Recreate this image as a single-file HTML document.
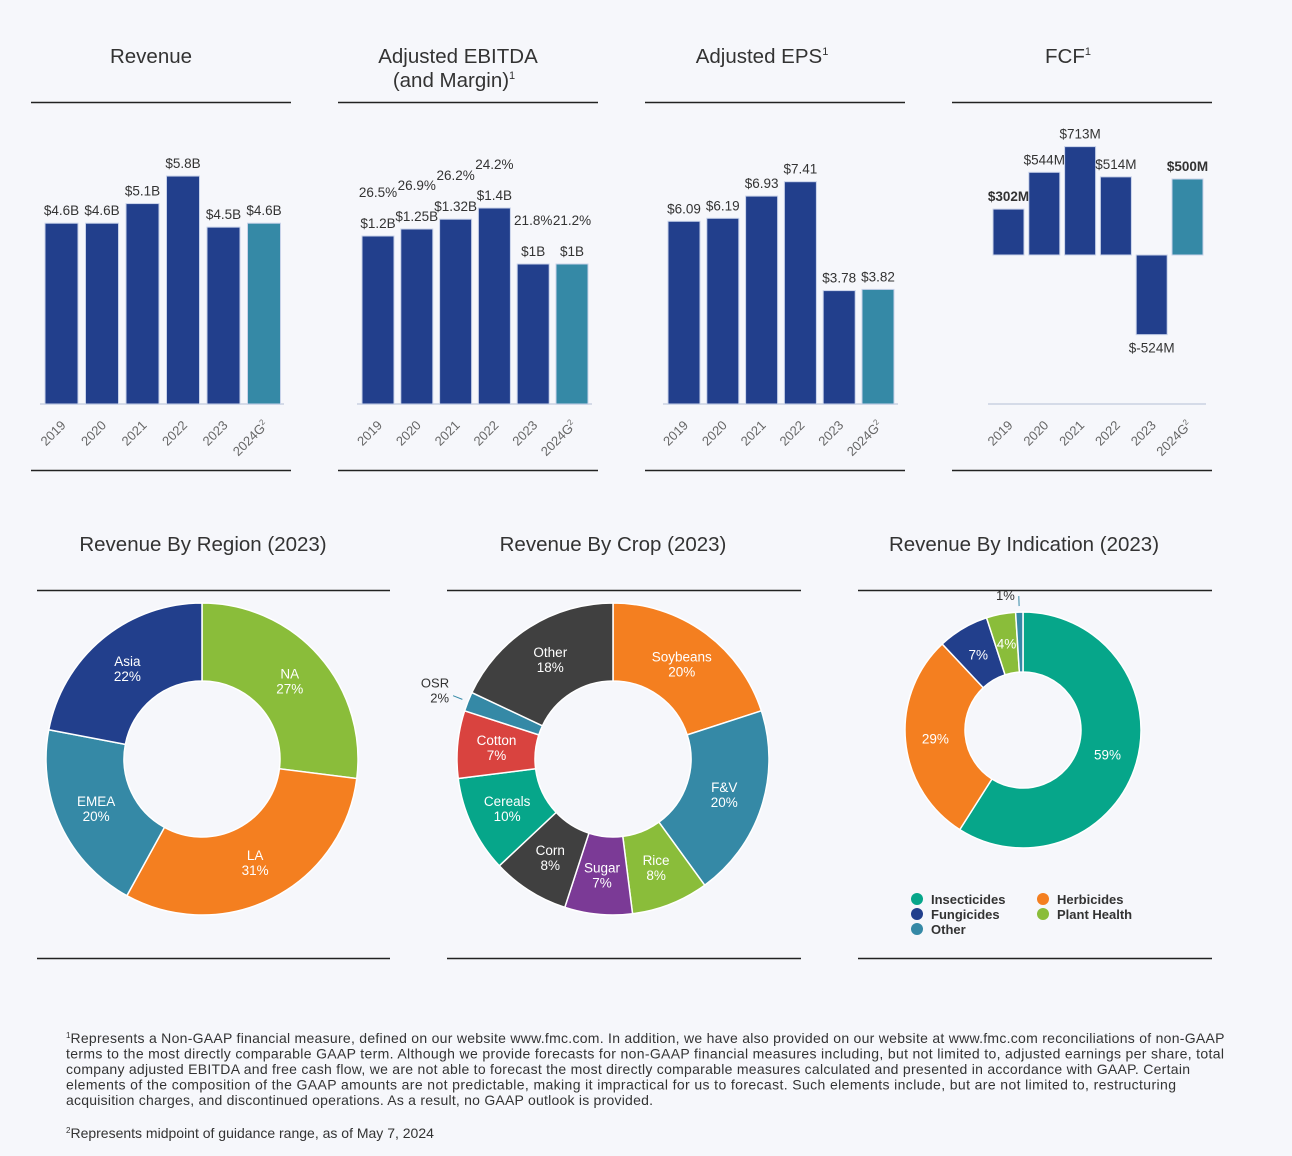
<!DOCTYPE html>
<html><head><meta charset="utf-8">
<style>
html,body{margin:0;padding:0;background:#f6f7fb;}
body{width:1292px;height:1151px;overflow:hidden;font-family:"Liberation Sans",sans-serif;}
svg text{font-family:"Liberation Sans",sans-serif;}
</style></head>
<body>
<svg id="c" width="1292" height="1151" viewBox="0 0 1292 1151" xmlns="http://www.w3.org/2000/svg">
<rect width="1292" height="1151" fill="#f6f7fb"/>
<g font-size="20.5" fill="#333" text-anchor="middle">
<text x="151" y="63">Revenue</text>
<text x="458" y="63">Adjusted EBITDA</text>
<text x="454" y="87">(and Margin)<tspan font-size="11" dy="-8">1</tspan></text>
<text x="762" y="63">Adjusted EPS<tspan font-size="11" dy="-8">1</tspan></text>
<text x="1068" y="63">FCF<tspan font-size="11" dy="-8">1</tspan></text>
<text x="203" y="551">Revenue By Region (2023)</text>
<text x="613" y="551">Revenue By Crop (2023)</text>
<text x="1024" y="551">Revenue By Indication (2023)</text>
</g>
<g stroke="#222" stroke-width="1.5">
<line x1="31" x2="291" y1="102.5" y2="102.5"/><line x1="338" x2="598" y1="102.5" y2="102.5"/><line x1="645" x2="905" y1="102.5" y2="102.5"/><line x1="952" x2="1212" y1="102.5" y2="102.5"/>
<line x1="31" x2="291" y1="470.5" y2="470.5"/><line x1="338" x2="598" y1="470.5" y2="470.5"/><line x1="645" x2="905" y1="470.5" y2="470.5"/><line x1="952" x2="1212" y1="470.5" y2="470.5"/>
<line x1="37" x2="390" y1="590.5" y2="590.5"/><line x1="447" x2="801" y1="590.5" y2="590.5"/><line x1="858" x2="1212" y1="590.5" y2="590.5"/>
<line x1="37" x2="390" y1="958.5" y2="958.5"/><line x1="447" x2="801" y1="958.5" y2="958.5"/><line x1="858" x2="1212" y1="958.5" y2="958.5"/>
</g>
<g id="bars"></g>
<g id="pies"></g>
<g font-size="13" font-weight="bold" fill="#333">
<circle cx="917" cy="899" r="6" fill="#06a68a"/><text x="931" y="904">Insecticides</text>
<circle cx="1043" cy="899" r="6" fill="#f47f20"/><text x="1057" y="904">Herbicides</text>
<circle cx="917" cy="914" r="6" fill="#223f8c"/><text x="931" y="919">Fungicides</text>
<circle cx="1043" cy="914" r="6" fill="#8abd3a"/><text x="1057" y="919">Plant Health</text>
<circle cx="917" cy="929" r="6" fill="#3589a6"/><text x="931" y="934">Other</text>
</g>
<g font-size="14" fill="#333">
<text x="66" y="1043"><tspan font-size="8" dy="-5">1</tspan><tspan dy="5" textLength="1154" lengthAdjust="spacing">Represents a Non-GAAP financial measure, defined on our website www.fmc.com. In addition, we have also provided on our website at www.fmc.com reconciliations of non-GAAP</tspan></text>
<text x="66" y="1058.5" textLength="1158" lengthAdjust="spacing">terms to the most directly comparable GAAP term. Although we provide forecasts for non-GAAP financial measures including, but not limited to, adjusted earnings per share, total</text>
<text x="66" y="1074" textLength="1124" lengthAdjust="spacing">company adjusted EBITDA and free cash flow, we are not able to forecast the most directly comparable measures calculated and presented in accordance with GAAP. Certain</text>
<text x="66" y="1089.5" textLength="1110" lengthAdjust="spacing">elements of the composition of the GAAP amounts are not predictable, making it impractical for us to forecast. Such elements include, but are not limited to, restructuring</text>
<text x="66" y="1105" textLength="587" lengthAdjust="spacing">acquisition charges, and discontinued operations. As a result, no GAAP outlook is provided.</text>
<text x="66" y="1138"><tspan font-size="8" dy="-5">2</tspan><tspan dy="5">Represents midpoint of guidance range, as of May 7, 2024</tspan></text>
</g>
</svg>
<script>
const years = ["2019","2020","2021","2022","2023","2024G"];
const revenue = [4.6,4.6,5.1,5.8,4.5,4.6];
const revenueLabels = ["$4.6B","$4.6B","$5.1B","$5.8B","$4.5B","$4.6B"];
const ebitda = [1.2,1.25,1.32,1.4,1.0,1.0];
const ebitdaLabels = ["$1.2B","$1.25B","$1.32B","$1.4B","$1B","$1B"];
const ebitdaMargin = ["26.5%","26.9%","26.2%","24.2%","21.8%","21.2%"];
const eps = [6.09,6.19,6.93,7.41,3.78,3.82];
const epsLabels = ["$6.09","$6.19","$6.93","$7.41","$3.78","$3.82"];
const fcf = [302,544,713,514,-524,500];
const fcfLabels = ["$302M","$544M","$713M","$514M","$-524M","$500M"];

const regionNames = ["NA","LA","EMEA","Asia"];
const regionValues = [27,31,20,22];
const cropNames = ["Soybeans","F&V","Rice","Sugar","Corn","Cereals","Cotton","OSR","Other"];
const cropValues = [20,20,8,7,8,10,7,2,18];
const indicationNames = ["Insecticides","Herbicides","Fungicides","Plant Health","Other"];
const indicationValues = [59,29,7,4,1];

const NS="http://www.w3.org/2000/svg";
function mk(tag,attrs,parent,txt){const e=document.createElementNS(NS,tag);for(const k in attrs)e.setAttribute(k,attrs[k]);if(txt!==undefined)e.textContent=txt;parent.appendChild(e);return e;}
const NAVY="#223f8c",TEAL="#3589a6";
const barsG=document.getElementById('bars');

function barChart(key,vals,labels,x0,step,bw,zeroY,scale,axisY,axisX1,axisX2,extra){
  const g=mk('g',{},barsG);
  
  
  const ax=mk('line',{x1:axisX1,x2:axisX2,y1:axisY,y2:axisY,stroke:"#d5dbe8","stroke-width":2},g);
  
  
  vals.forEach((v,i)=>{
    const x=x0+i*step, h=Math.abs(v)*scale;
    const y=v>=0?zeroY-h:zeroY;
    const r=mk('rect',{x:x,y:y,width:bw,height:h,fill:i===5?TEAL:NAVY,stroke:"#c9d3ea","stroke-width":1},g);
    
    
    const cx=x+bw/2;
    const ly=v>=0?y-8:y+h+18;
    const t=mk('text',{x:cx,y:ly,"text-anchor":"middle","font-size":13.5,fill:"#333","font-weight":(key==='fcf'&&(i===0||i===5))?"bold":"normal"},g,labels[i]);
    
    
    if(extra){const p=mk('text',{x:cx,y:ly-31,"text-anchor":"middle","font-size":13.5,fill:"#333"},g,extra[i]);
      
      }
    const tx=cx+5, ty=axisY+22;
    const yl=mk('text',{x:tx,y:ty,"text-anchor":"end","font-size":13,fill:"#666",transform:`rotate(-45 ${tx} ${ty})`},g,years[i]);
    if(i===5){mk('tspan',{"font-size":8,dy:-5},yl,"2");}
    
    
  });
}
barChart('revenue',revenue,revenueLabels,45,40.5,33,404,39.3,404,40,284);
barChart('ebitda',ebitda,ebitdaLabels,362,38.8,32,404,140,404,357,592,ebitdaMargin);
barChart('eps',eps,epsLabels,668,38.8,32,404,30,404,663,898);
barChart('fcf',fcf,fcfLabels,993,35.8,31,255,0.152,404,988,1206);

const piesG=document.getElementById('pies');
function pt(cx,cy,r,a){return [cx+r*Math.sin(a),cy-r*Math.cos(a)];}
function donut(key,names,vals,colors,cx,cy,R,ri,showName,skip){
  const g=mk('g',{},piesG);
  
  
  const tot=vals.reduce((a,b)=>a+b,0);
  let acc=0;
  vals.forEach((v,i)=>{
    const a0=acc/tot*2*Math.PI; acc+=v; const a1=acc/tot*2*Math.PI;
    const lg=(a1-a0)>Math.PI?1:0;
    const [x0,y0]=pt(cx,cy,R,a0),[x1,y1]=pt(cx,cy,R,a1),[x2,y2]=pt(cx,cy,ri,a1),[x3,y3]=pt(cx,cy,ri,a0);
    const p=mk('path',{d:`M${x0},${y0}A${R},${R} 0 ${lg} 1 ${x1},${y1}L${x2},${y2}A${ri},${ri} 0 ${lg} 0 ${x3},${y3}Z`,fill:colors[i],stroke:"#fff","stroke-width":1.5},g);
    
    
    const am=(a0+a1)/2;
    if(skip&&skip.includes(i)){
      const [lx,ly]=pt(cx,cy,R+6,am),[ox,oy]=pt(cx,cy,R+16,am);
      mk('line',{x1:lx,y1:ly,x2:ox,y2:oy,stroke:colors[i],"stroke-width":1},g);
      const t=mk('text',{x:ox-4,y:oy+(showName?-8:4),"text-anchor":"end","font-size":13,fill:"#333"},g);
      if(showName){mk('tspan',{x:ox-4},t,names[i]);mk('tspan',{x:ox-4,dy:15},t,v+"%");}else t.textContent=v+"%";
      
      
      return;
    }
    const [tx,ty]=pt(cx,cy,(R+ri)/2,am);
    const t=mk('text',{x:tx,y:showName?ty-3:ty+5,"text-anchor":"middle","font-size":13.5,fill:"#fff"},g);
    if(showName){mk('tspan',{x:tx},t,names[i]);mk('tspan',{x:tx,dy:15},t,v+"%");}else t.textContent=v+"%";
    
    
  });
}
donut('region',regionNames,regionValues,["#8abd3a","#f47f20",TEAL,NAVY],202,759,156,78,true);
donut('crop',cropNames,cropValues,["#f47f20",TEAL,"#8abd3a","#7b3a96","#404040","#06a68a","#d9433f",TEAL,"#404040"],613,759,156,78,true,[7]);
donut('indication',indicationNames,indicationValues,["#06a68a","#f47f20",NAVY,"#8abd3a",TEAL],1023,730,118,58,false,[4]);
</script>
</body></html>
